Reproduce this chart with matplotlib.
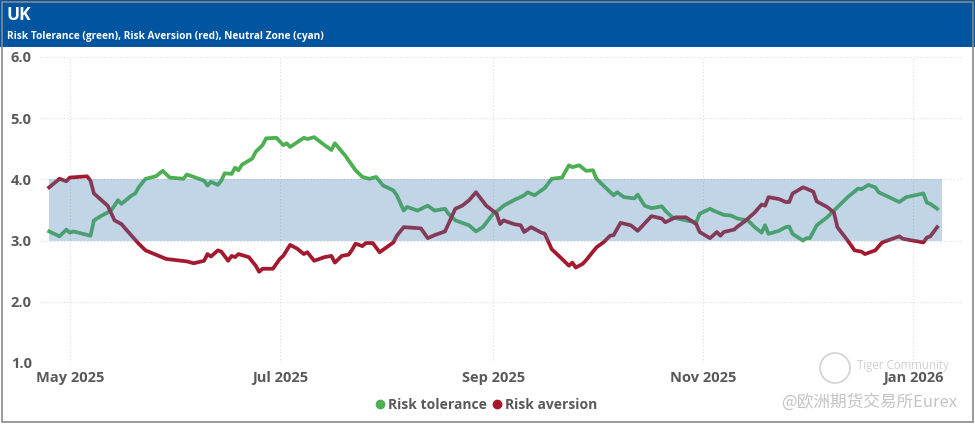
import matplotlib
matplotlib.use("Agg")
import matplotlib.pyplot as plt
from matplotlib.patches import Rectangle, Ellipse
import pandas as pd

title = "UK"
subtitle = "Risk Tolerance (green), Risk Aversion (red), Neutral Zone (cyan)"
watermark1 = "Tiger Community"
watermark2 = "@欧洲期货交易所Eurex"

tol_dates = ["2025-04-25", "2025-04-28", "2025-04-30", "2025-05-01", "2025-05-02", "2025-05-07",
             "2025-05-08", "2025-05-10", "2025-05-13", "2025-05-15", "2025-05-16", "2025-05-19",
             "2025-05-20", "2025-05-21", "2025-05-23", "2025-05-26", "2025-05-28", "2025-05-30",
             "2025-06-03", "2025-06-04", "2025-06-09", "2025-06-10", "2025-06-11", "2025-06-13",
             "2025-06-14", "2025-06-15", "2025-06-17", "2025-06-18", "2025-06-19", "2025-06-20",
             "2025-06-23", "2025-06-24", "2025-06-26", "2025-06-27", "2025-06-30", "2025-07-02",
             "2025-07-03", "2025-07-04", "2025-07-08", "2025-07-09", "2025-07-11", "2025-07-14",
             "2025-07-16", "2025-07-17", "2025-07-20", "2025-07-23", "2025-07-25", "2025-07-27",
             "2025-07-29", "2025-07-31", "2025-08-03", "2025-08-04", "2025-08-06", "2025-08-07",
             "2025-08-10", "2025-08-13", "2025-08-15", "2025-08-18", "2025-08-19", "2025-08-21",
             "2025-08-25", "2025-08-27", "2025-08-29", "2025-09-01", "2025-09-03", "2025-09-04",
             "2025-09-07", "2025-09-10", "2025-09-11", "2025-09-13", "2025-09-15", "2025-09-16",
             "2025-09-18", "2025-09-21", "2025-09-23", "2025-09-24", "2025-09-26", "2025-09-28",
             "2025-09-30", "2025-10-01", "2025-10-03", "2025-10-06", "2025-10-07", "2025-10-09",
             "2025-10-12", "2025-10-13", "2025-10-15", "2025-10-17", "2025-10-20", "2025-10-21",
             "2025-10-23", "2025-10-27", "2025-10-30", "2025-10-31", "2025-11-03", "2025-11-04",
             "2025-11-07", "2025-11-09", "2025-11-11", "2025-11-14", "2025-11-16", "2025-11-18",
             "2025-11-19", "2025-11-20", "2025-11-23", "2025-11-25", "2025-11-26", "2025-11-27",
             "2025-11-30", "2025-12-01", "2025-12-02", "2025-12-04", "2025-12-07", "2025-12-09",
             "2025-12-13", "2025-12-16", "2025-12-17", "2025-12-19", "2025-12-21", "2025-12-22",
             "2025-12-28", "2025-12-30", "2026-01-04", "2026-01-05", "2026-01-06", "2026-01-08"]
tol_values = [3.15, 3.07, 3.18, 3.13, 3.15, 3.08,
              3.33, 3.40, 3.49, 3.66, 3.60, 3.74,
              3.77, 3.87, 4.01, 4.05, 4.14, 4.03,
              4.01, 4.08, 3.98, 3.90, 3.96, 3.91,
              3.98, 4.10, 4.09, 4.19, 4.15, 4.24,
              4.34, 4.45, 4.56, 4.67, 4.68, 4.56,
              4.59, 4.53, 4.68, 4.66, 4.69, 4.56,
              4.48, 4.59, 4.39, 4.15, 4.04, 4.01,
              4.04, 3.90, 3.82, 3.74, 3.49, 3.55,
              3.49, 3.57, 3.49, 3.52, 3.44, 3.33,
              3.25, 3.15, 3.22, 3.44, 3.52, 3.57,
              3.66, 3.74, 3.79, 3.74, 3.82, 3.86,
              4.01, 4.03, 4.23, 4.20, 4.23, 4.14,
              4.15, 4.01, 3.90, 3.74, 3.79, 3.71,
              3.69, 3.75, 3.57, 3.53, 3.56, 3.49,
              3.38, 3.33, 3.30, 3.44, 3.52, 3.49,
              3.42, 3.41, 3.36, 3.33, 3.22, 3.13,
              3.25, 3.11, 3.16, 3.22, 3.23, 3.11,
              3.00, 3.04, 3.04, 3.25, 3.38, 3.49,
              3.71, 3.85, 3.84, 3.91, 3.87, 3.79,
              3.63, 3.71, 3.77, 3.62, 3.60, 3.52]

av_dates = ["2025-04-25", "2025-04-28", "2025-04-30", "2025-05-01", "2025-05-06", "2025-05-07",
            "2025-05-08", "2025-05-12", "2025-05-14", "2025-05-16", "2025-05-18", "2025-05-21",
            "2025-05-23", "2025-05-29", "2025-06-04", "2025-06-06", "2025-06-09", "2025-06-10",
            "2025-06-11", "2025-06-13", "2025-06-14", "2025-06-16", "2025-06-17", "2025-06-18",
            "2025-06-19", "2025-06-22", "2025-06-24", "2025-06-25", "2025-06-26", "2025-06-29",
            "2025-07-01", "2025-07-02", "2025-07-04", "2025-07-06", "2025-07-08", "2025-07-09",
            "2025-07-11", "2025-07-14", "2025-07-16", "2025-07-17", "2025-07-19", "2025-07-21",
            "2025-07-22", "2025-07-23", "2025-07-25", "2025-07-26", "2025-07-28", "2025-07-30",
            "2025-08-01", "2025-08-03", "2025-08-04", "2025-08-06", "2025-08-11", "2025-08-13",
            "2025-08-15", "2025-08-18", "2025-08-21", "2025-08-23", "2025-08-25", "2025-08-27",
            "2025-08-30", "2025-09-02", "2025-09-03", "2025-09-04", "2025-09-07", "2025-09-09",
            "2025-09-10", "2025-09-12", "2025-09-15", "2025-09-16", "2025-09-18", "2025-09-21",
            "2025-09-23", "2025-09-24", "2025-09-25", "2025-09-27", "2025-09-28", "2025-10-01",
            "2025-10-03", "2025-10-05", "2025-10-06", "2025-10-08", "2025-10-11", "2025-10-13",
            "2025-10-17", "2025-10-20", "2025-10-21", "2025-10-24", "2025-10-27", "2025-10-30",
            "2025-10-31", "2025-11-03", "2025-11-05", "2025-11-06", "2025-11-07", "2025-11-10",
            "2025-11-11", "2025-11-13", "2025-11-16", "2025-11-18", "2025-11-19", "2025-11-20",
            "2025-11-23", "2025-11-25", "2025-11-26", "2025-11-27", "2025-11-30", "2025-12-01",
            "2025-12-03", "2025-12-04", "2025-12-07", "2025-12-09", "2025-12-10", "2025-12-13",
            "2025-12-15", "2025-12-17", "2025-12-18", "2025-12-21", "2025-12-23", "2025-12-28",
            "2025-12-29", "2026-01-04", "2026-01-05", "2026-01-06", "2026-01-08"]
av_values = [3.87, 4.01, 3.97, 4.03, 4.05, 3.98,
             3.77, 3.57, 3.33, 3.27, 3.14, 2.95,
             2.84, 2.70, 2.66, 2.63, 2.67, 2.78,
             2.74, 2.84, 2.82, 2.67, 2.75, 2.73,
             2.78, 2.73, 2.59, 2.49, 2.54, 2.54,
             2.70, 2.75, 2.93, 2.87, 2.78, 2.81,
             2.67, 2.73, 2.75, 2.64, 2.75, 2.77,
             2.85, 2.95, 2.91, 2.96, 2.96, 2.81,
             2.89, 2.97, 3.08, 3.22, 3.20, 3.04,
             3.09, 3.15, 3.52, 3.57, 3.66, 3.79,
             3.57, 3.44, 3.27, 3.33, 3.27, 3.25,
             3.14, 3.22, 3.13, 3.11, 2.86, 2.70,
             2.59, 2.64, 2.56, 2.62, 2.68, 2.89,
             2.97, 3.08, 3.09, 3.29, 3.25, 3.16,
             3.40, 3.36, 3.30, 3.38, 3.38, 3.27,
             3.14, 3.04, 3.14, 3.08, 3.14, 3.18,
             3.23, 3.31, 3.46, 3.59, 3.57, 3.71,
             3.68, 3.63, 3.63, 3.77, 3.87, 3.85,
             3.80, 3.64, 3.55, 3.46, 3.22, 3.00,
             2.84, 2.82, 2.78, 2.84, 2.97, 3.07,
             3.03, 2.97, 3.05, 3.07, 3.22]

zone_low, zone_high = 3.0, 4.0
zone_start, zone_end = "2025-04-24 20:00", "2026-01-09 10:00"
x_range = ("2025-04-22 08:00", "2026-01-15 05:00")
y_ticks = [1.0, 2.0, 3.0, 4.0, 5.0, 6.0]
x_tick_dates = ["2025-05-01", "2025-07-01", "2025-09-01", "2025-11-01", "2026-01-01"]
x_tick_labels = ["May 2025", "Jul 2025", "Sep 2025", "Nov 2025", "Jan 2026"]
series_names = ["Risk tolerance", "Risk aversion"]

GREEN = "#4CAF50"
RED = "#A3192E"
GREY_TXT = "#595959"
HEADER = "#0054A0"

W, H = 975, 424
plt.rcParams['font.family'] = ['Open Sans', 'DejaVu Sans']
fig = plt.figure(figsize=(W / 100, H / 100), dpi=100)
fig.patch.set_facecolor("white")

# header bar
fig.patches.append(Rectangle((0, 1 - 47 / H), 1, 47 / H, transform=fig.transFigure,
                             facecolor=HEADER, edgecolor="none", zorder=0))
fig.text(7 / W, 1 - 15 / H, title, color="white", fontsize=12.5, fontweight="bold",
         va="center", ha="left")
fig.text(7 / W, 1 - 36.5 / H, subtitle, color="white", fontsize=7.3, fontweight="bold",
         va="center", ha="left")
# outer border
fig.patches.append(Rectangle((1.5 / W, 2.5 / H), 971 / W, (H - 4) / H, transform=fig.transFigure,
                             facecolor="none", edgecolor="#8a8a8a", lw=1.2, zorder=1))

ax = fig.add_axes([40 / W, (H - 363) / H, (962 - 40) / W, (363 - 57) / H])
td = pd.to_datetime(tol_dates)
ad = pd.to_datetime(av_dates)
ax.plot(td, tol_values, color=GREEN, lw=2.7, solid_joinstyle="round", zorder=3, label=series_names[0])
ax.plot(ad, av_values, color=RED, lw=2.7, solid_joinstyle="round", zorder=3, label=series_names[1])
zs, ze = pd.to_datetime([zone_start, zone_end])
ax.fill_between([zs, ze], [zone_low, zone_low], [zone_high, zone_high],
                color="#4682B4", alpha=0.33, lw=0, zorder=4)

ax.set_xlim(pd.to_datetime(x_range[0]), pd.to_datetime(x_range[1]))
ax.set_ylim(1, 6)
ax.set_yticks(y_ticks)
ax.set_yticklabels([f"{v:.1f}" for v in y_ticks])
ax.set_xticks(pd.to_datetime(x_tick_dates))
ax.set_xticklabels(x_tick_labels)
for s in ax.spines.values():
    s.set_visible(False)
ax.tick_params(length=0, labelsize=10.5, labelcolor=GREY_TXT)
ax.tick_params(axis="y", pad=6)
ax.tick_params(axis="x", pad=6)
for lab in ax.get_xticklabels() + ax.get_yticklabels():
    lab.set_fontweight("bold")
ax.grid(True, color="#dcdcdc", linestyle=(0, (1, 2)), lw=0.8, zorder=0)
ax.set_axisbelow(True)

leg = fig.legend(handles=ax.get_lines(), labels=series_names, loc="center",
                 bbox_to_anchor=(487 / W, 1 - 405 / H), ncol=2, frameon=False,
                 handlelength=0.5, handletextpad=0.3, columnspacing=0.5,
                 prop={"size": 10, "weight": "bold"})
for h in leg.legend_handles:
    h.set_linestyle("none")
    h.set_marker("o")
    h.set_markersize(6)
for t in leg.get_texts():
    t.set_color(GREY_TXT)

# watermark
fig.patches.append(Ellipse((835 / W, 1 - 368 / H), 30 / W, 30 / H, transform=fig.transFigure,
                           facecolor="none", edgecolor="#d5d5d5", lw=1.3, zorder=5))
fig.text(857 / W, 1 - 366 / H, watermark1, color="#d0d0d0", fontsize=8.3, va="center", ha="left",
         zorder=6)
fig.text(781 / W, 1 - 402 / H, watermark2, color="#c4c4c4", fontsize=12, va="center", ha="left",
         family=["Noto Sans CJK SC", "DejaVu Sans"], zorder=6)

fig.savefig("out.png", dpi=100)
